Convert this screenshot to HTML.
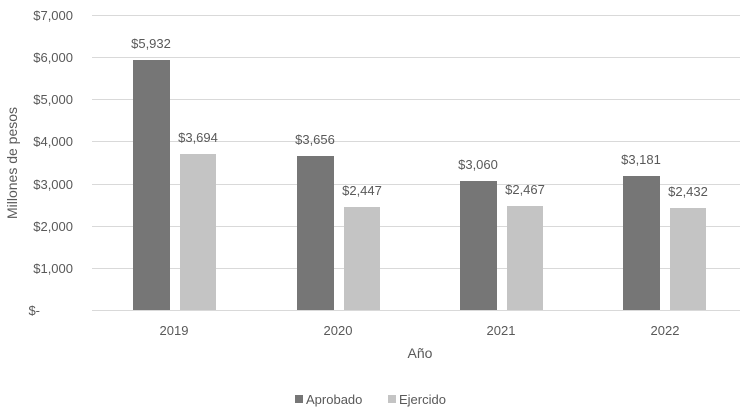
<!DOCTYPE html>
<html><head><meta charset="utf-8"><style>body{margin:0;background:#fff}svg{display:block}text{font-family:"Liberation Sans",sans-serif;fill:#595959}</style></head><body>
<svg width="750" height="410" xmlns="http://www.w3.org/2000/svg">
<g stroke="#d9d9d9" stroke-width="1">
<line x1="92" x2="740" y1="15.5" y2="15.5"/><line x1="92" x2="740" y1="57.5" y2="57.5"/><line x1="92" x2="740" y1="99.5" y2="99.5"/><line x1="92" x2="740" y1="141.5" y2="141.5"/><line x1="92" x2="740" y1="184.5" y2="184.5"/><line x1="92" x2="740" y1="226.5" y2="226.5"/><line x1="92" x2="740" y1="268.5" y2="268.5"/><line x1="92" x2="740" y1="310.5" y2="310.5"/>
</g>
<g font-size="13" text-anchor="end">
<text x="73" y="20">$7,000</text><text x="73" y="62">$6,000</text><text x="73" y="104">$5,000</text><text x="73" y="146">$4,000</text><text x="73" y="189">$3,000</text><text x="73" y="231">$2,000</text><text x="73" y="273">$1,000</text><text x="40" y="315">$-</text>
</g>
<text transform="translate(17,163) rotate(-90)" font-size="14" text-anchor="middle">Millones de pesos</text>
<g fill="#767676">
<rect x="133" y="60" width="37" height="250"/><rect x="297" y="156" width="37" height="154"/><rect x="460" y="181" width="37" height="129"/><rect x="623" y="176" width="37" height="134"/>
</g>
<g fill="#c4c4c4">
<rect x="180" y="154" width="36" height="156"/><rect x="344" y="207" width="36" height="103"/><rect x="507" y="206" width="36" height="104"/><rect x="670" y="208" width="36" height="102"/>
</g>
<g font-size="13" text-anchor="middle">
<text x="151" y="48">$5,932</text><text x="198" y="142">$3,694</text>
<text x="315" y="144">$3,656</text><text x="362" y="195">$2,447</text>
<text x="478" y="169">$3,060</text><text x="525" y="194">$2,467</text>
<text x="641" y="164">$3,181</text><text x="688" y="196">$2,432</text>
<text x="174" y="335">2019</text><text x="338" y="335">2020</text><text x="501" y="335">2021</text><text x="665" y="335">2022</text>
<text x="420" y="358" font-size="14">Año</text>
</g>
<rect x="295" y="395" width="8" height="8" fill="#767676"/>
<text x="306" y="404" font-size="13">Aprobado</text>
<rect x="388" y="395" width="8" height="8" fill="#c4c4c4"/>
<text x="399" y="404" font-size="13">Ejercido</text>
</svg>
</body></html>
